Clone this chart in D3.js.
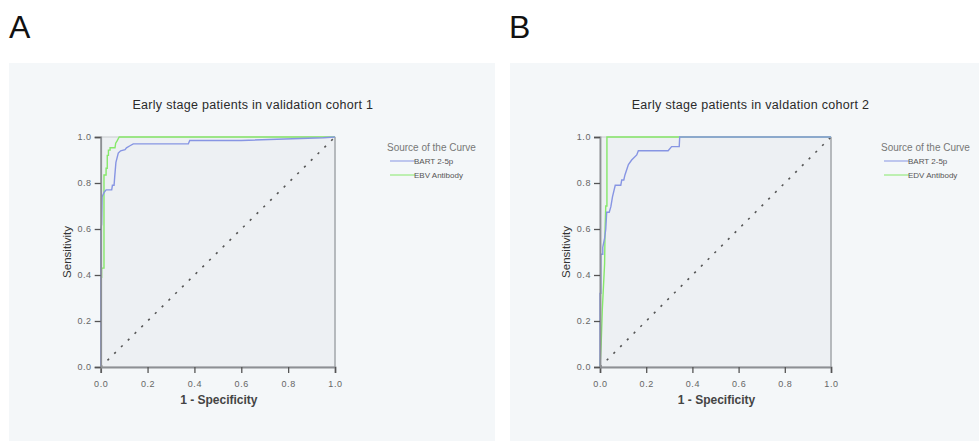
<!DOCTYPE html>
<html lang="en">
<head>
<meta charset="UTF-8">
<title>ROC curves, early stage patients</title>
<script src="https://cdn.jsdelivr.net/npm/d3@7/dist/d3.min.js"></script>
<style>
    body { margin: 0; background: #fff; }
    text { font-family: "Liberation Sans", Arial, sans-serif; }
</style>
</head>
<body>
<svg id="fig" width="979" height="441"></svg>
<script>
    // ---- data ----
    let panelLetters = ['A', 'B'];
    let panelTitles = ['Early stage patients in validation cohort 1', 'Early stage patients in valdation cohort 2'];
    let seriesNames = [['BART 2-5p', 'EBV Antibody'], ['BART 2-5p', 'EDV Antibody']];
    let tickValues = [0, 0.2, 0.4, 0.6, 0.8, 1.0];

    // cohort 1, [1 - specificity, sensitivity]
    let bart1 = [[0,0],[0,0.6],[0.004,0.62],[0.006,0.74],[0.015,0.76],[0.023,0.77],[0.047,0.77],[0.05,0.79],[0.057,0.79],
        [0.06,0.83],[0.065,0.89],[0.075,0.93],[0.085,0.94],[0.104,0.945],[0.11,0.953],[0.125,0.962],[0.139,0.97],
        [0.374,0.97],[0.38,0.985],[0.6,0.985],[0.95,0.997],[1,1]];
    let ebv1 = [[0,0],[0,0.39],[0.004,0.39],[0.004,0.43],[0.014,0.43],[0.014,0.835],[0.023,0.835],[0.023,0.864],
        [0.028,0.864],[0.028,0.92],[0.033,0.92],[0.033,0.943],[0.04,0.943],[0.04,0.953],[0.061,0.953],[0.064,0.973],
        [0.07,0.983],[0.079,1],[1,1]];

    // cohort 2
    let bart2 = [[0,0],[0,0.32],[0.004,0.32],[0.004,0.49],[0.012,0.49],[0.012,0.52],[0.02,0.56],[0.025,0.6],
        [0.029,0.673],[0.04,0.673],[0.047,0.697],[0.054,0.74],[0.066,0.79],[0.09,0.79],[0.094,0.813],[0.103,0.813],
        [0.108,0.835],[0.123,0.88],[0.137,0.9],[0.159,0.922],[0.166,0.94],[0.295,0.94],[0.31,0.958],[0.343,0.958],
        [0.345,1],[1,1]];
    let ebv2 = [[0,0],[0.005,0.1],[0.01,0.25],[0.015,0.35],[0.02,0.45],[0.022,0.6],[0.025,0.7],[0.03,0.7],[0.03,1],[1,1]];

    let curveColours = ['#8795e3', '#86e86a'];

    let panels = [
        {bg: [9, 63, 486, 378], plot: [100.7, 137, 234.3, 230], series: [bart1, ebv1], legendX: 387},
        {bg: [510, 63, 469, 378], plot: [600, 137, 231, 230], series: [bart2, ebv2], legendX: 881}
    ];

    let svg = d3.select('svg#fig');

    panels.forEach(function (p, k) {
        let g = svg.append('g');
        let [px, py, pw, ph] = p.plot;

        // panel letter
        g.append('text').attr('x', p.bg[0] + (k == 0 ? 0 : -1)).attr('y', 38)
            .style('font-size', '32px').style('fill', '#111').text(panelLetters[k]);

        // chart background
        g.append('rect').attr('x', p.bg[0]).attr('y', p.bg[1]).attr('width', p.bg[2]).attr('height', p.bg[3])
            .style('fill', '#f4f7f9');

        let xScale = d3.scaleLinear().domain([0, 1]).range([px, px + pw]);
        let yScale = d3.scaleLinear().domain([0, 1]).range([py + ph, py]);

        // plot area
        g.append('rect').attr('x', px).attr('y', py).attr('width', pw).attr('height', ph)
            .style('fill', '#edf0f3').style('stroke', '#c8cbce').style('stroke-width', 1);
        g.append('line').attr('x1', px + pw).attr('x2', px + pw).attr('y1', py).attr('y2', py + ph)
            .style('stroke', '#a9acb0').style('stroke-width', 1.5);

        // reference diagonal
        g.append('line')
            .attr('x1', xScale(0)).attr('y1', yScale(0)).attr('x2', xScale(1)).attr('y2', yScale(1))
            .style('stroke', '#555').style('stroke-width', 1.6).style('stroke-dasharray', '2.2,7.3');

        // curves
        let line = d3.line().x(function (d) { return xScale(d[0]); }).y(function (d) { return yScale(d[1]); });
        p.series.slice().reverse().forEach(function (s, i) {
            let idx = p.series.length - 1 - i;
            g.append('path').datum(s).attr('d', line)
                .style('fill', 'none').style('stroke', curveColours[idx]).style('stroke-width', 1.4);
        });

        // axes
        let xAxis = g.append('g').attr('transform', 'translate(0,' + (py + ph) + ')')
            .call(d3.axisBottom(xScale).tickValues(tickValues).tickFormat(d3.format('.1f')).tickSizeOuter(0).tickSize(6));
        let yAxis = g.append('g').attr('transform', 'translate(' + px + ',0)')
            .call(d3.axisLeft(yScale).tickValues(tickValues).tickFormat(d3.format('.1f')).tickSizeOuter(0).tickSize(6));
        [xAxis, yAxis].forEach(function (a) {
            a.select('.domain').style('stroke', '#8d9094').style('stroke-width', 1.8);
            a.selectAll('.tick line').style('stroke', '#555').style('stroke-width', 1.3);
            a.selectAll('.tick text').style('font-size', '9px').style('fill', '#666')
                .style('font-family', '"Liberation Sans", Arial, sans-serif').style('letter-spacing', '0.6px');
        });
        xAxis.selectAll('.tick text').attr('dy', '1.25em');

        // titles
        g.append('text').attr('x', px + pw / 2 + 35).attr('y', 109).attr('text-anchor', 'middle')
            .style('font-size', '12.5px').style('letter-spacing', '0.3px').style('fill', '#2a2a2a').text(panelTitles[k]);
        g.append('text').attr('x', px + pw / 2 + 1).attr('y', 404).attr('text-anchor', 'middle')
            .style('font-size', '12px').style('font-weight', 'bold').style('fill', '#444').text('1 - Specificity');
        g.append('text').attr('transform', 'translate(' + (px - 30) + ',' + (py + ph / 2) + ') rotate(-90)')
            .attr('text-anchor', 'middle').style('font-size', '11.5px').style('fill', '#333').text('Sensitivity');

        // legend
        let lg = g.append('g').attr('transform', 'translate(' + p.legendX + ',0)');
        lg.append('text').attr('x', 0).attr('y', 151).style('font-size', '10px').style('fill', '#777')
            .text('Source of the Curve');
        seriesNames[k].forEach(function (name, i) {
            let y = 161 + i * 14;
            lg.append('line').attr('x1', 3).attr('x2', 28).attr('y1', y).attr('y2', y)
                .style('stroke', curveColours[i]).style('stroke-width', 1);
            lg.append('text').attr('x', 27).attr('y', y + 3).style('font-size', '8px').style('fill', '#555')
                .text(name);
        });
    });
</script>
</body>
</html>
